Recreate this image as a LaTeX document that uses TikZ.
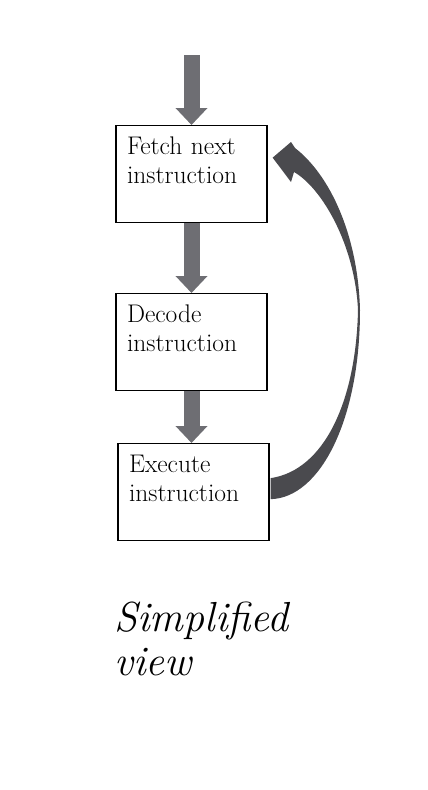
\documentclass[tikz,border=0pt]{standalone}
\usepackage{tikz}
\usetikzlibrary{arrows.meta}

\definecolor{flowgray}{RGB}{110,110,115}
\definecolor{loopgray}{RGB}{74,74,78}

\tikzset{
    stage/.style={draw, line width=1.3pt, text width=129pt, align=left,
        inner xsep=11pt, inner ysep=0pt, text height=29pt, text depth=68pt,
        font=\fontsize{25.5}{29}\selectfont},
    flow/.style={draw=flowgray, line width=16pt,
        -{Triangle[width=31pt,length=17pt]}}
}

\begin{document}
\begin{tikzpicture}[x=1pt, y=-1pt]
    \useasboundingbox (0,0) rectangle (428,790);

    \node[stage] (fetch) at (191.5,125) [anchor=north] {Fetch next\\instruction};
    \node[stage] (decode) at (191.5,293) [anchor=north] {Decode\\instruction};
    \node[stage] (execute) at (193.5,443) [anchor=north] {Execute\\instruction};
    \coordinate (start) at (191.5,55);

    \path[flow] (start) -- (fetch.north);
    \path[flow] (fetch.south) -- (decode.north);
    \path[flow] (decode.south) -- (decode.south |- execute.north);

    % loop back
    \fill[loopgray] ([xshift=1pt,yshift=14pt]execute.east)
        .. controls (325,470) and (356,400) .. (358,310)
        .. controls (355,245) and (322,188) .. (294,172)
        -- (291,182) -- ([xshift=5pt,yshift=16.5pt]fetch.east) -- (291,142)
        -- (295,148)
        .. controls (330,175) and (358,235) .. (360,310)
        .. controls (360,420) and (320,498) .. ([xshift=1pt,yshift=-7pt]execute.east)
        -- cycle;

    \node[anchor=north west, inner sep=0pt, align=left,
        font=\fontsize{42}{44}\selectfont\itshape] (caption) at (114,602) {Simplified\\view};
\end{tikzpicture}
\end{document}
